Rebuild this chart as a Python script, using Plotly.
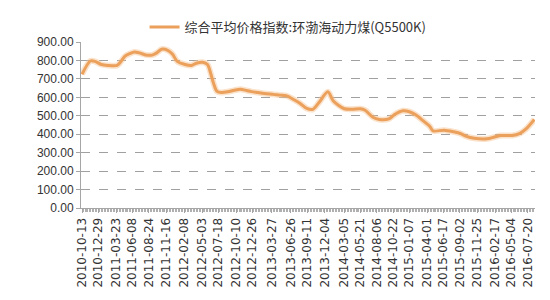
import plotly.graph_objects as go

series_name = "综合平均价格指数:环渤海动力煤(Q5500K)"

dates = [
    "2010-10-13", "2010-11-21", "2010-12-13", "2011-01-12", "2011-02-12",
    "2011-03-28", "2011-04-12", "2011-05-04", "2011-05-27", "2011-06-18",
    "2011-07-11", "2011-08-09", "2011-09-09", "2011-10-01", "2011-10-24",
    "2011-11-22", "2011-12-15", "2012-01-06", "2012-02-12", "2012-03-13",
    "2012-04-05", "2012-05-05", "2012-05-28", "2012-06-12", "2012-06-27",
    "2012-07-12", "2012-08-02", "2012-09-01", "2012-10-01", "2012-10-31",
    "2012-11-22", "2012-12-22", "2013-01-21", "2013-02-20", "2013-04-05",
    "2013-05-05", "2013-06-04", "2013-07-11", "2013-08-09", "2013-09-09",
    "2013-10-08", "2013-11-06", "2013-12-18", "2014-01-13", "2014-03-06",
    "2014-04-12", "2014-05-20", "2014-06-12", "2014-07-19", "2014-08-18",
    "2014-10-02", "2014-10-31", "2014-12-08", "2015-01-07", "2015-02-06",
    "2015-03-14", "2015-04-14", "2015-04-29", "2015-06-21", "2015-08-05",
    "2015-09-04", "2015-10-04", "2015-11-10", "2016-01-09", "2016-02-14",
    "2016-03-15", "2016-05-07", "2016-06-13", "2016-07-13", "2016-08-20",
]

values = [
    725, 797, 795, 778, 773,
    773, 790, 823, 837, 846,
    841, 830, 829, 841, 861,
    855, 833, 795, 778, 773,
    785, 790, 778, 730, 671,
    632, 626, 630, 638, 644,
    639, 631, 626, 621, 616,
    612, 609, 587, 567, 540,
    535, 572, 630, 580, 538,
    535, 538, 530, 492, 480,
    483, 508, 527, 522, 505,
    472, 442, 418, 422, 413,
    405, 388, 378, 375, 385,
    393, 393, 405, 430, 480,
]

tick_labels = [
    "2010-10-13", "2010-12-29", "2011-03-23", "2011-06-08", "2011-08-24",
    "2011-11-16", "2012-02-08", "2012-05-03", "2012-07-18", "2012-10-10",
    "2012-12-26", "2013-03-27", "2013-06-26", "2013-09-11", "2013-12-04",
    "2014-03-05", "2014-05-21", "2014-08-06", "2014-10-22", "2015-01-07",
    "2015-04-01", "2015-06-17", "2015-09-02", "2015-11-25", "2016-02-17",
    "2016-05-04", "2016-07-20",
]

line_color = "#EBA05C"

fig = go.Figure()
fig.add_trace(go.Scatter(
    x=dates, y=values, mode="lines", showlegend=False, hoverinfo="skip",
    line=dict(color="rgba(245,190,140,0.45)", width=6, shape="spline", smoothing=0.8),
))
fig.add_trace(go.Scatter(
    x=dates, y=values, mode="lines", name=series_name,
    line=dict(color=line_color, width=3, shape="spline", smoothing=0.8),
))

fig.update_layout(
    width=550, height=300,
    margin=dict(l=81, r=15, t=29, b=92),
    paper_bgcolor="white", plot_bgcolor="white",
    showlegend=True,
    legend=dict(
        orientation="h", x=0.14, xanchor="left", y=1.09, yanchor="middle",
        font=dict(family="Noto Sans CJK SC", size=13, color="#333333"),
        bgcolor="rgba(0,0,0,0)", itemwidth=30,
    ),
)

fig.update_xaxes(
    type="date",
    range=["2010-10-08", "2016-08-23"],
    tickmode="array", tickvals=tick_labels, ticktext=tick_labels,
    tickangle=-90,
    tickfont=dict(family="DejaVu Sans", size=12, color="#333333"),
    showgrid=False,
    showline=True, linecolor="#A6A6A6", linewidth=1,
    ticks="outside", ticklen=4, tickcolor="#A6A6A6",
    minor=dict(ticks="outside", ticklen=3, tickcolor="#B0B0B0", dtick=7 * 86400000,
               tick0="2010-10-13", showgrid=False),
    zeroline=False,
)

fig.update_yaxes(
    range=[0, 900], dtick=100, tickformat=".2f",
    tickfont=dict(family="Liberation Sans", size=12, color="#333333"),
    showgrid=True, gridcolor="#A0A0A0", griddash="dash", gridwidth=1,
    showline=True, linecolor="#A6A6A6", linewidth=1,
    ticks="outside", ticklen=4, tickcolor="#A6A6A6",
    zeroline=False,
)

fig.write_html("out.html")
